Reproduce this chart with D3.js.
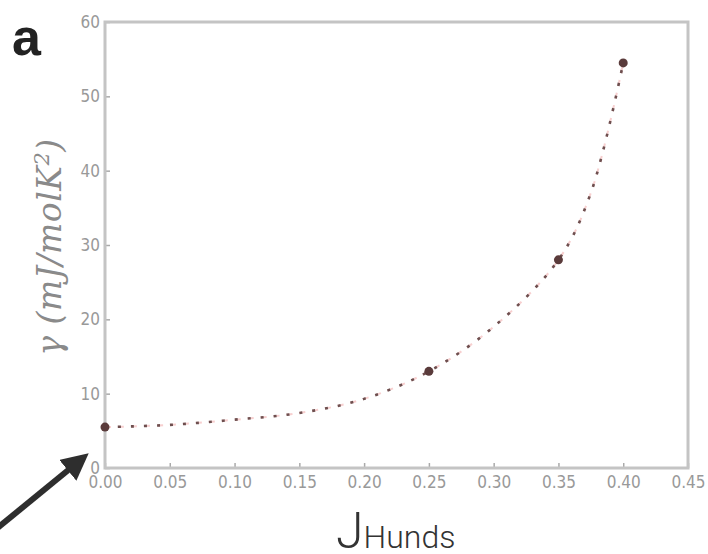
<!DOCTYPE html>
<html>
<head>
<meta charset="utf-8">
<script src="https://cdn.jsdelivr.net/npm/d3@7"></script>
<style>
  body { margin: 0; background: #fff; }
  svg { display: block; }
</style>
</head>
<body>
<div id="chart"></div>
<script>
// Measured points (J_Hunds vs gamma)
const jValues = [0.00, 0.25, 0.35, 0.40];
const gammaValues = [5.5, 13.0, 28.0, 54.5];

// Points
const curveJ = [0.00, 0.05, 0.10, 0.15, 0.20, 0.25, 0.30, 0.35, 0.375, 0.40];
const curveGamma = [5.5, 5.8, 6.5, 7.4, 9.3, 13.0, 19.0, 28.0, 37.0, 54.5];

const xTicks = [0, 0.05, 0.10, 0.15, 0.20, 0.25, 0.30, 0.35, 0.40, 0.45];
const yTicks = [0, 10, 20, 30, 40, 50, 60];

const width = 708;
const height = 554;
const margin = { top: 22, right: 20, bottom: 86, left: 105 };
const innerWidth = 688 - margin.left;
const innerHeight = 468 - margin.top;

const svg = d3.select("#chart")
  .append("svg")
  .attr("width", width)
  .attr("height", height);

// soft blur for the lines, the reference is a blurry scan
const defs = svg.append("defs");
defs.append("filter")
  .attr("id", "soft")
  .attr("x", "-10%").attr("y", "-10%")
  .attr("width", "120%").attr("height", "120%")
  .append("feGaussianBlur")
  .attr("stdDeviation", 0.6);

const g = svg.append("g")
  .attr("transform", `translate(${margin.left},${margin.top})`);

const x = d3.scaleLinear().domain([0, 0.45]).range([0, innerWidth]);
const y = d3.scaleLinear().domain([0, 60]).range([innerHeight, 0]);

// axes
const xAxis = g.append("g")
  .attr("transform", `translate(0,${innerHeight})`)
  .call(d3.axisBottom(x).tickValues(xTicks).tickFormat(d3.format(".2f")).tickSize(-5).tickPadding(8));

const yAxis = g.append("g")
  .call(d3.axisLeft(y).tickValues(yTicks).tickSize(-5).tickPadding(5));

[xAxis, yAxis].forEach(ax => {
  ax.select(".domain").remove();
  ax.selectAll("line").attr("stroke", "#aaa").attr("stroke-width", 1.5);
  ax.selectAll("text")
    .attr("fill", "#999")
    .attr("font-family", "DejaVu Sans Condensed, DejaVu Sans, sans-serif")
    .attr("font-size", 17);
});

// frame
g.append("rect")
  .attr("x", 0)
  .attr("y", 0)
  .attr("width", innerWidth)
  .attr("height", innerHeight)
  .attr("fill", "none")
  .attr("stroke", "#c4c4c4")
  .attr("stroke-width", 3)
  .attr("filter", "url(#soft)");

// dashed guide curve
const curveData = curveJ.map((d, i) => ({ j: d, g: curveGamma[i] }));
const line = d3.line()
  .x(d => x(d.j))
  .y(d => y(d.g))
  .curve(d3.curveCatmullRom.alpha(0.5));

const curveG = g.append("g").attr("filter", "url(#soft)");

curveG.append("path")
  .datum(curveData)
  .attr("d", line)
  .attr("fill", "none")
  .attr("stroke", "#f0a0a0")
  .attr("stroke-width", 2)
  .attr("stroke-dasharray", "6,7")
  .attr("stroke-opacity", 0.5);

curveG.append("path")
  .datum(curveData)
  .attr("d", line)
  .attr("fill", "none")
  .attr("stroke", "#6e5050")
  .attr("stroke-width", 2.6)
  .attr("stroke-dasharray", "3,10");

// markers
curveG.selectAll(".pt")
  .data(jValues.map((d, i) => ({ j: d, g: gammaValues[i] })))
  .enter()
  .append("circle")
  .attr("class", "pt")
  .attr("cx", d => x(d.j))
  .attr("cy", d => y(d.g))
  .attr("r", 4.5)
  .attr("fill", "#5a3a3a");

// y label
const yLabel = svg.append("text")
  .attr("transform", "translate(61,247) rotate(-90)")
  .attr("text-anchor", "middle")
  .attr("font-family", "DejaVu Serif")
  .attr("font-style", "italic")
  .attr("font-size", 33)
  .attr("letter-spacing", "0.5px")
  .attr("fill", "#8a8a8a");
yLabel.append("tspan").text("γ (mJ/molK");
yLabel.append("tspan").attr("baseline-shift", "super").attr("font-size", 21).text("2");
yLabel.append("tspan").text(")");

// panel letter
svg.append("text")
  .attr("x", 12)
  .attr("y", 55)
  .attr("font-family", "Liberation Sans, Arial, DejaVu Sans, sans-serif")
  .attr("font-weight", "bold")
  .attr("font-size", 52)
  .attr("fill", "#222")
  .text("a");

// x label
const xLabel = svg.append("text")
  .attr("x", 336)
  .attr("y", 548)
  .attr("font-family", "Roboto")
  .attr("font-weight", 300)
  .attr("fill", "#333");
xLabel.append("tspan").attr("font-size", 50).text("J");
xLabel.append("tspan").attr("font-size", 32).text("Hunds");

// arrow
defs.append("marker")
  .attr("id", "head")
  .attr("viewBox", "0 0 10 10")
  .attr("refX", 2)
  .attr("refY", 5)
  .attr("markerWidth", 4.5)
  .attr("markerHeight", 4.5)
  .attr("orient", "auto")
  .append("path")
  .attr("d", "M0,0 L10,5 L0,10 Z")
  .attr("fill", "#2e2e2e");

svg.append("line")
  .attr("x1", -5)
  .attr("y1", 530)
  .attr("x2", 72)
  .attr("y2", 467)
  .attr("stroke", "#2e2e2e")
  .attr("stroke-width", 6)
  .attr("marker-end", "url(#head)");
</script>
</body>
</html>
